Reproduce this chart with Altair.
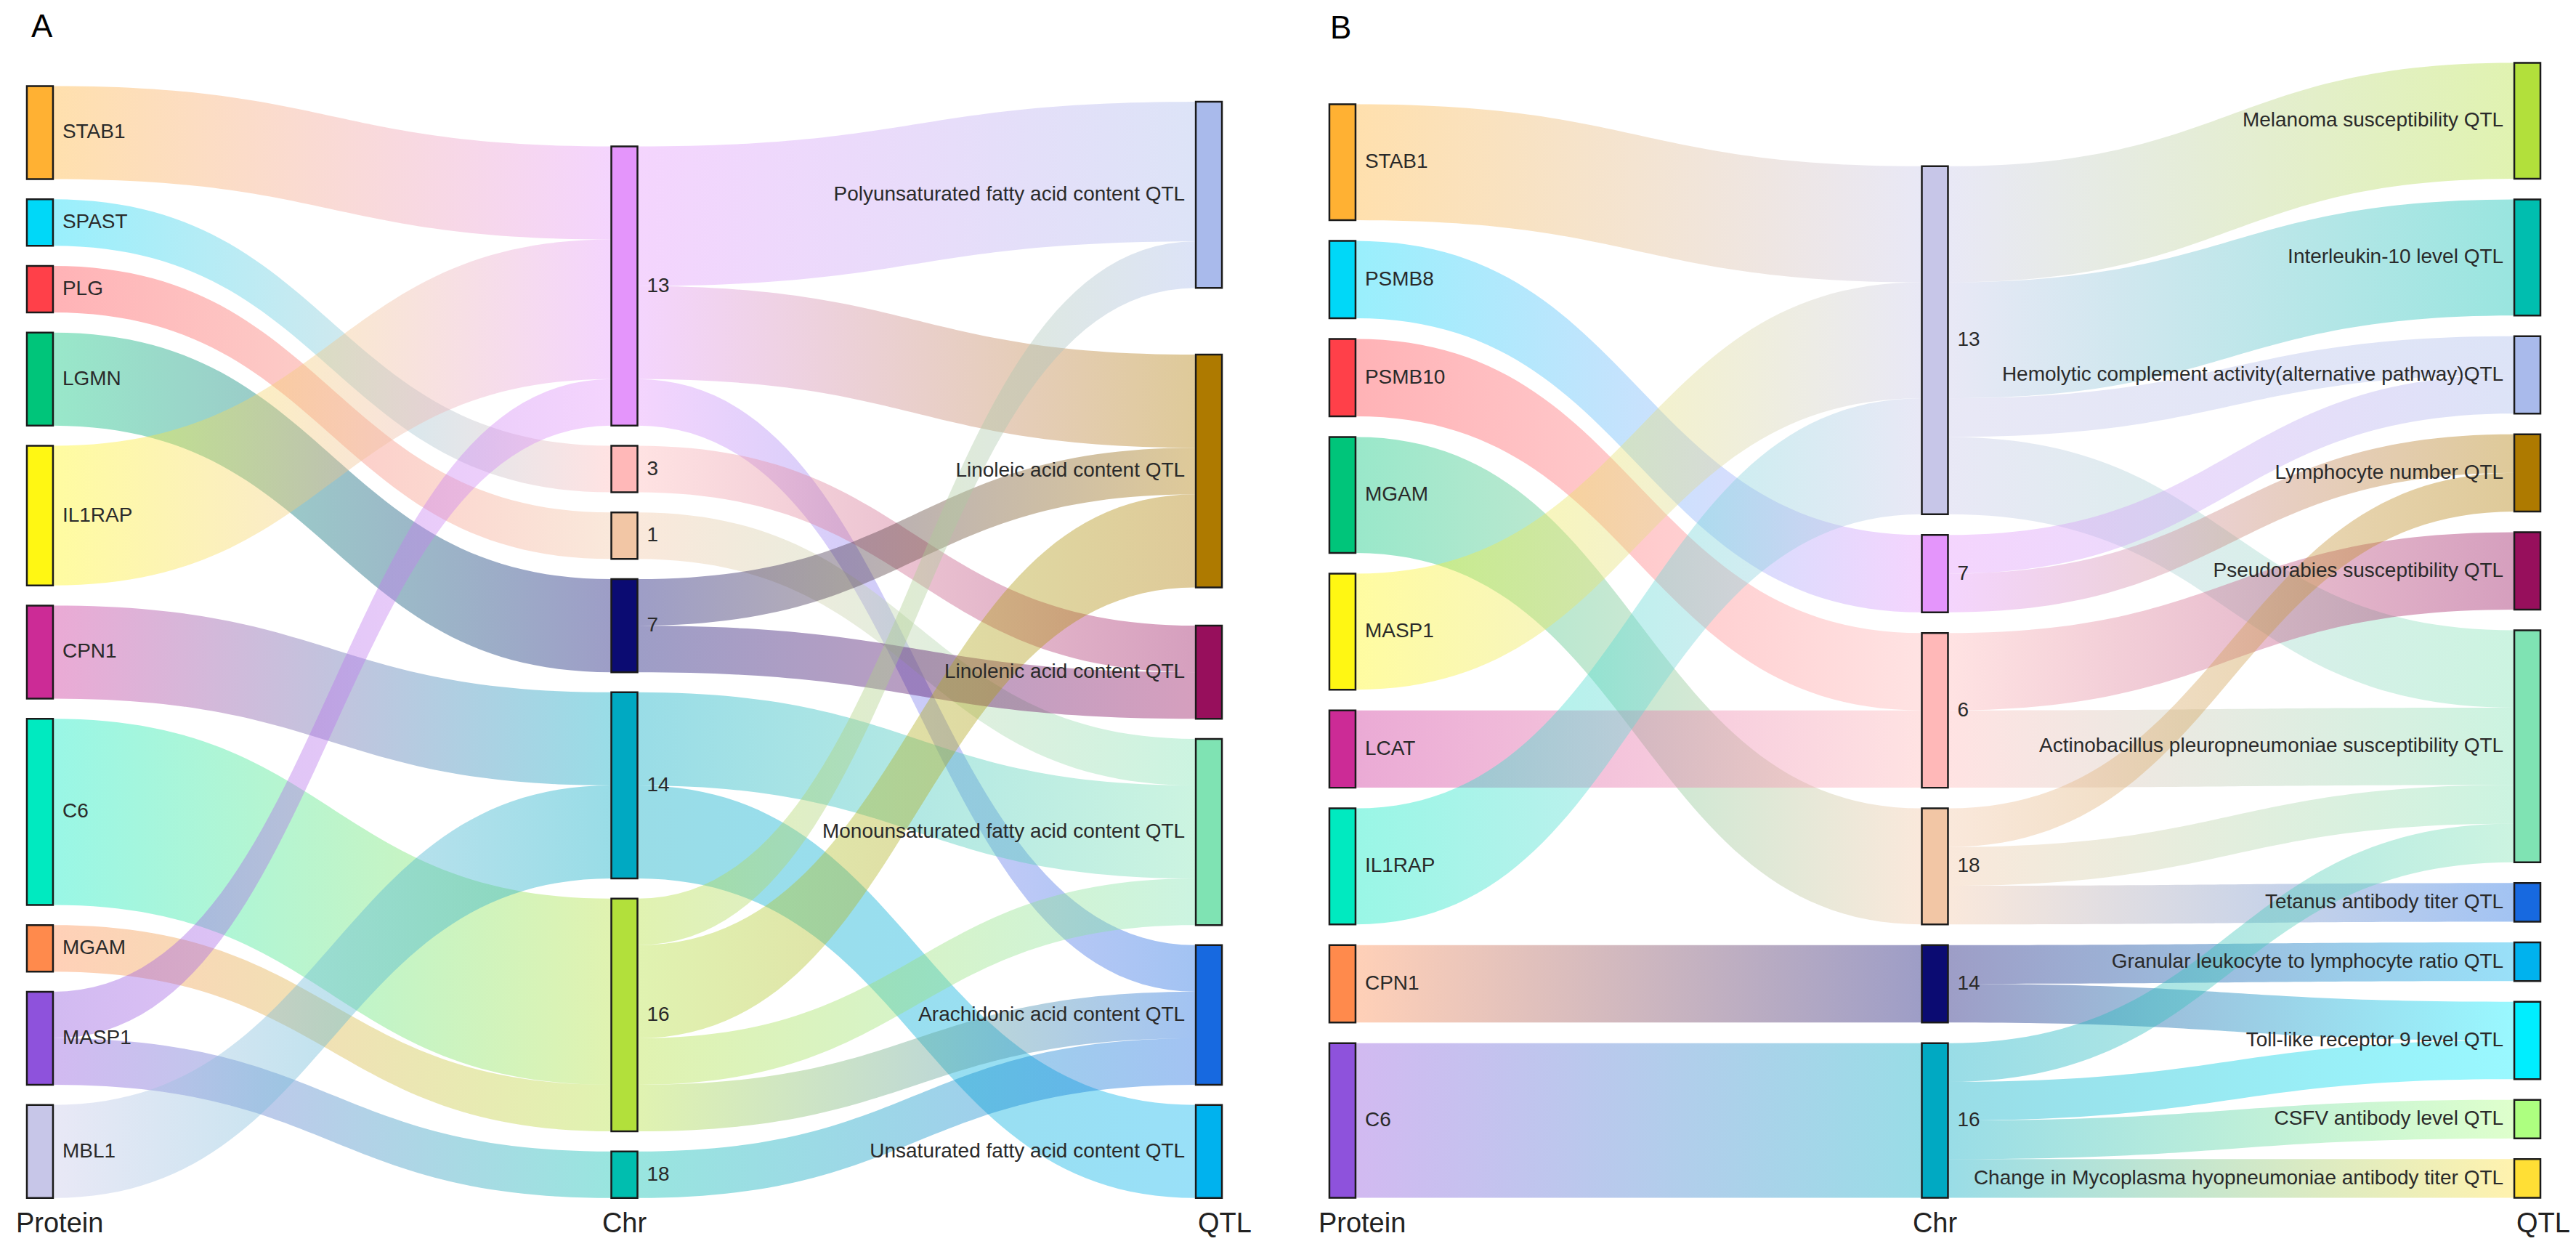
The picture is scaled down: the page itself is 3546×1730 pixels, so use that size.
import altair as alt
import pandas as pd
import numpy as np

FONT = "Liberation Sans"
PALETTE = ["#FFB133", "#00D8F8", "#FF4049", "#00C57A", "#FFF713", "#CC2B96",
           "#00EAC0", "#FF8A4C", "#8E52DC", "#C7C6E8", "#E495FB", "#FFB8B8",
           "#F2C6A5", "#0B0B72", "#00A9C2", "#B2E03B", "#00BEAF", "#A9BAEB",
           "#AE7A00", "#970F5C", "#7FE3B3", "#1769E0", "#00B2EE", "#00EEFF",
           "#ADFF80", "#FFDF35"]

# ---------------- Panel A data ----------------
A_PROTEIN = ["STAB1", "SPAST", "PLG", "LGMN", "IL1RAP", "CPN1", "C6", "MGAM", "MASP1", "MBL1"]
A_CHR = ["13", "3", "1", "7", "14", "16", "18"]
A_QTL = ["Polyunsaturated fatty acid content QTL", "Linoleic acid content QTL",
         "Linolenic acid content QTL", "Monounsaturated fatty acid content QTL",
         "Arachidonic acid content QTL", "Unsaturated fatty acid content QTL"]
A_PROTEIN_CHR = [("STAB1", "13", 2), ("SPAST", "3", 1), ("PLG", "1", 1), ("LGMN", "7", 2),
                 ("IL1RAP", "13", 3), ("CPN1", "14", 2), ("C6", "16", 4), ("MGAM", "16", 1),
                 ("MASP1", "13", 1), ("MASP1", "18", 1), ("MBL1", "14", 2)]
A_CHR_QTL = [("13", A_QTL[0], 3), ("13", A_QTL[1], 2), ("13", A_QTL[4], 1),
             ("3", A_QTL[2], 1), ("1", A_QTL[3], 1),
             ("7", A_QTL[1], 1), ("7", A_QTL[2], 1),
             ("14", A_QTL[3], 2), ("14", A_QTL[5], 2),
             ("16", A_QTL[0], 1), ("16", A_QTL[1], 2), ("16", A_QTL[3], 1), ("16", A_QTL[4], 1),
             ("18", A_QTL[4], 1)]

# ---------------- Panel B data ----------------
B_PROTEIN = ["STAB1", "PSMB8", "PSMB10", "MGAM", "MASP1", "LCAT", "IL1RAP", "CPN1", "C6"]
B_CHR = ["13", "7", "6", "18", "14", "16"]
B_QTL = ["Melanoma susceptibility QTL", "Interleukin-10 level QTL",
         "Hemolytic complement activity(alternative pathway)QTL", "Lymphocyte number QTL",
         "Pseudorabies susceptibility QTL", "Actinobacillus pleuropneumoniae susceptibility QTL",
         "Tetanus antibody titer QTL", "Granular leukocyte to lymphocyte ratio QTL",
         "Toll-like receptor 9 level QTL", "CSFV antibody level QTL",
         "Change in Mycoplasma hyopneumoniae antibody titer QTL"]
B_PROTEIN_CHR = [("STAB1", "13", 3), ("PSMB8", "7", 2), ("PSMB10", "6", 2), ("MGAM", "18", 3),
                 ("MASP1", "13", 3), ("LCAT", "6", 2), ("IL1RAP", "13", 3), ("CPN1", "14", 2),
                 ("C6", "16", 4)]
B_CHR_QTL = [("13", B_QTL[0], 3), ("13", B_QTL[1], 3), ("13", B_QTL[2], 1), ("13", B_QTL[5], 2),
             ("7", B_QTL[2], 1), ("7", B_QTL[3], 1),
             ("6", B_QTL[4], 2), ("6", B_QTL[5], 2),
             ("18", B_QTL[3], 1), ("18", B_QTL[5], 1), ("18", B_QTL[6], 1),
             ("14", B_QTL[7], 1), ("14", B_QTL[8], 1),
             ("16", B_QTL[5], 1), ("16", B_QTL[8], 1), ("16", B_QTL[9], 1), ("16", B_QTL[10], 1)]

COL_TITLES = ["Protein", "Chr", "QTL"]

# ---------------- layout settings (pixels) ----------------
PLOT_H = 1709
LAYOUT_A = dict(unit=64.1, gap=27.7, top=110, width=1716, col0=29, step=805, node=36,
                extra={2: [0.33, 1.0, 0.39, 0, 0, 0]}, letter="A", letter_xy=(35, 30))
LAYOUT_B = dict(unit=53.25, gap=28.5, top=78, width=1794, col0=87, step=816, node=36,
                extra={}, letter="B", letter_xy=(88, 32))


def bezier_band(x0, x1, ya0, ya1, yb0, yb1, n=60):
    t = np.linspace(0, 1, n)
    fx = 1.5 * t * (1 - t) + t ** 3
    fy = 3 * t ** 2 - 2 * t ** 3
    return pd.DataFrame({"x": x0 + (x1 - x0) * fx,
                         "y": ya0 + (ya1 - ya0) * fy,
                         "yb": yb0 + (yb1 - yb0) * fy})


def build_panel(cols, stages, L):
    u = L["unit"]
    g = L["gap"] / u
    nw = L["node"] / L["step"]
    links = []
    for si, st in enumerate(stages):
        for s, t, v in st:
            links.append(dict(sc=si, s=s, tc=si + 1, t=t, v=v))
    vin, vout = {}, {}
    for lk in links:
        vout[(lk["sc"], lk["s"])] = vout.get((lk["sc"], lk["s"]), 0) + lk["v"]
        vin[(lk["tc"], lk["t"])] = vin.get((lk["tc"], lk["t"]), 0) + lk["v"]

    def nval(ci, n):
        return max(vin.get((ci, n), 0), vout.get((ci, n), 0))

    totals = []
    for ci, names in enumerate(cols):
        ex = L["extra"].get(ci, [0] * len(names))
        totals.append(sum(nval(ci, n) for n in names) + g * (len(names) - 1) + sum(ex))
    maxtot = max(totals)

    nodes = {}
    k = 0
    for ci, names in enumerate(cols):
        ex = L["extra"].get(ci, [0] * len(names))
        y = maxtot - totals[ci]
        for i, n in enumerate(names):
            if i > 0:
                y += g
            y += ex[i]
            v = nval(ci, n)
            nodes[(ci, n)] = dict(col=ci, name=n, x0=ci, x1=ci + nw, y0=y, y1=y + v,
                                  ym=y + v / 2, color=PALETTE[k])
            k += 1
            y += v

    # stack link ends
    for key, nd in nodes.items():
        outs = [lk for lk in links if (lk["sc"], lk["s"]) == key]
        outs.sort(key=lambda lk: nodes[(lk["tc"], lk["t"])]["y0"])
        y = nd["y0"]
        for lk in outs:
            lk["sy0"], lk["sy1"] = y, y + lk["v"]
            y += lk["v"]
        ins = [lk for lk in links if (lk["tc"], lk["t"]) == key]
        ins.sort(key=lambda lk: nodes[(lk["sc"], lk["s"])]["y0"])
        y = nd["y0"]
        for lk in ins:
            lk["ty0"], lk["ty1"] = y, y + lk["v"]
            y += lk["v"]

    xs = alt.Scale(domain=[-L["col0"] / L["step"], (L["width"] - L["col0"]) / L["step"]],
                   nice=False, zero=False)
    ys = alt.Scale(domain=[-L["top"] / u, (PLOT_H - L["top"]) / u], nice=False, zero=False,
                   reverse=True)

    layers = []
    for lk in links:
        sn = nodes[(lk["sc"], lk["s"])]
        tn = nodes[(lk["tc"], lk["t"])]
        df = bezier_band(sn["x1"], tn["x0"], lk["sy0"], lk["ty0"], lk["sy1"], lk["ty1"])
        grad = alt.LinearGradient(gradient="linear",
                                  stops=[alt.GradientStop(color=sn["color"], offset=0),
                                         alt.GradientStop(color=tn["color"], offset=1)],
                                  x1=0, x2=1, y1=0, y2=0)
        layers.append(
            alt.Chart(df).mark_area(fill=grad, fillOpacity=0.4, interpolate="linear")
            .encode(x=alt.X("x:Q", scale=xs, axis=None),
                    y=alt.Y("y:Q", scale=ys, axis=None),
                    y2="yb:Q"))

    ndf = pd.DataFrame(list(nodes.values()))
    layers.append(
        alt.Chart(ndf).mark_rect(stroke="#1a1a1a", strokeWidth=2.5)
        .encode(x=alt.X("x0:Q", scale=xs, axis=None), x2="x1:Q",
                y=alt.Y("y0:Q", scale=ys, axis=None), y2="y1:Q",
                fill=alt.Fill("color:N", scale=None)))
    left_df = ndf[ndf["col"] < 2]
    right_df = ndf[ndf["col"] == 2]
    layers.append(
        alt.Chart(left_df).mark_text(align="left", baseline="middle", dx=13, fontSize=28,
                                     font=FONT, color="#2a2a2a")
        .encode(x=alt.X("x1:Q", scale=xs, axis=None), y=alt.Y("ym:Q", scale=ys, axis=None),
                text="name:N"))
    layers.append(
        alt.Chart(right_df).mark_text(align="right", baseline="middle", dx=-15, fontSize=28,
                                      font=FONT, color="#2a2a2a")
        .encode(x=alt.X("x0:Q", scale=xs, axis=None), y=alt.Y("ym:Q", scale=ys, axis=None),
                text="name:N"))

    # column titles
    tdf = pd.DataFrame({"t": COL_TITLES, "x": [0, 1 + nw / 2, 2], "y": [maxtot] * 3})
    for i, (al, dx) in enumerate([("left", -15), ("center", 0), ("left", 3)]):
        layers.append(
            alt.Chart(tdf.iloc[[i]]).mark_text(align=al, baseline="middle", dx=dx, dy=36,
                                               fontSize=38, font=FONT, color="#222222")
            .encode(x=alt.X("x:Q", scale=xs, axis=None), y=alt.Y("y:Q", scale=ys, axis=None),
                    text="t:N"))
    # panel letter
    layers.append(
        alt.Chart(pd.DataFrame({"t": [L["letter"]]})).mark_text(
            align="left", baseline="middle", fontSize=44, font=FONT, color="#000000")
        .encode(x=alt.value(L["letter_xy"][0]), y=alt.value(L["letter_xy"][1]), text="t:N"))

    return alt.layer(*layers).properties(width=L["width"], height=PLOT_H)


panelA = build_panel([A_PROTEIN, A_CHR, A_QTL], [A_PROTEIN_CHR, A_CHR_QTL], LAYOUT_A)
panelB = build_panel([B_PROTEIN, B_CHR, B_QTL], [B_PROTEIN_CHR, B_CHR_QTL], LAYOUT_B)

chart = (alt.hconcat(panelA, panelB, spacing=20, bounds="flush", padding=0)
         .configure_view(stroke=None))
chart.save("out.html", embed_options={"renderer": "svg", "actions": False})
